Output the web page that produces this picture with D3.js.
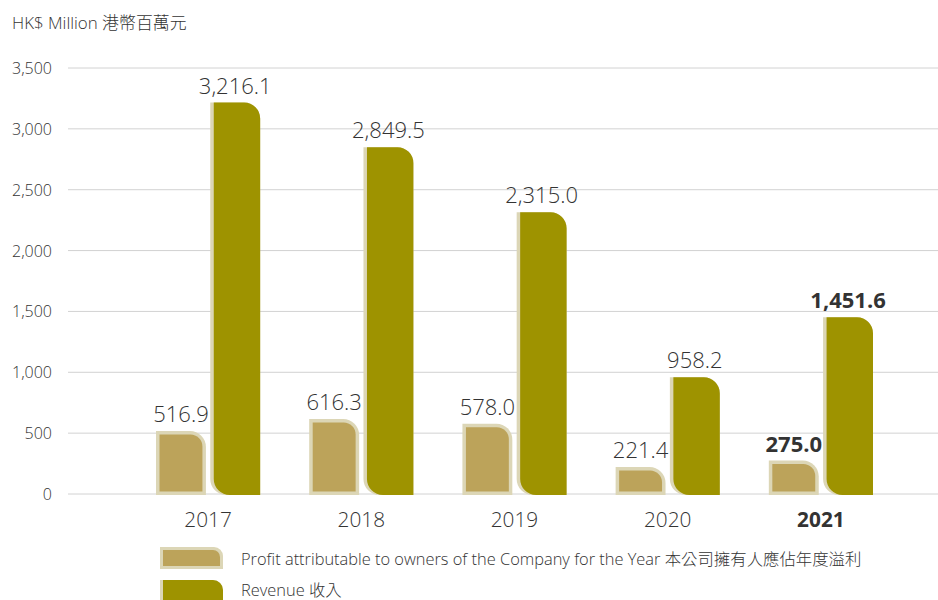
<!DOCTYPE html>
<html>
<head>
<meta charset="utf-8">
<script src="https://cdn.jsdelivr.net/npm/d3@7"></script>
<style>
  html, body { margin: 0; padding: 0; background: #fff; }
  svg { display: block; font-family: "Open Sans", "Noto Sans", "Noto Sans CJK TC", sans-serif; }
</style>
</head>
<body>
<svg id="chart" width="938" height="600"></svg>
<script>
// Figures in HK$ million
const years = ["2017", "2018", "2019", "2020", "2021"];
const profit = [516.9, 616.3, 578.0, 221.4, 275.0];
const revenue = [3216.1, 2849.5, 2315.0, 958.2, 1451.6];
const yTicks = [0, 500, 1000, 1500, 2000, 2500, 3000, 3500];
const highlightYear = "2021";
const legendLabels = [
  "Profit attributable to owners of the Company for the Year 本公司擁有人應佔年度溢利",
  "Revenue 收入"
];

const colProfit = "#bca35a";
const colRevenue = "#9e9300";
const colEdge = "#dcd6b6";
const textCol = "#333";
const lightW = 300;

const svg = d3.select("#chart");

const y = d3.scaleLinear().domain([0, 3500]).range([494, 68]);
const x = d3.scaleBand().domain(years).range([156, 873]).paddingInner(0.32).paddingOuter(0);
const sub = d3.scaleBand().domain(["p", "r"]).range([0, x.bandwidth()]).paddingInner(0.08);

// Title
svg.append("text").attr("x", 12).attr("y", 29)
  .attr("font-size", 16.9).attr("font-weight", lightW).attr("fill", textCol)
  .text("HK$ Million 港幣百萬元");

// Grid + tick labels
const grid = svg.append("g");
grid.selectAll("line").data(yTicks).join("line")
  .attr("x1", 68).attr("x2", 938)
  .attr("y1", d => y(d)).attr("y2", d => y(d))
  .attr("stroke", "#d2d2d2").attr("stroke-width", 1);
grid.selectAll("text").data(yTicks).join("text")
  .attr("x", 52).attr("y", d => y(d) + 6)
  .attr("text-anchor", "end").attr("font-size", 16).attr("font-weight", lightW).attr("fill", textCol)
  .text(d => d3.format(",")(d));

// Shape with rounded top-right corner and optional rounded bottom-left corner
function barPath(x0, y0, w, h, rTop, rBot) {
  const p = d3.path();
  rTop = Math.min(rTop, h, w);
  rBot = Math.min(rBot, h - rTop, w);
  p.moveTo(x0, y0);
  p.lineTo(x0 + w - rTop, y0);
  p.arcTo(x0 + w, y0, x0 + w, y0 + rTop, rTop);
  p.lineTo(x0 + w, y0 + h);
  p.lineTo(x0 + rBot, y0 + h);
  if (rBot > 0) p.arcTo(x0, y0 + h, x0, y0 + h - rBot, rBot);
  p.lineTo(x0, y0);
  p.closePath();
  return p.toString();
}

const base = y(0) + 1;
const groups = svg.append("g").selectAll("g").data(years).join("g")
  .attr("transform", d => `translate(${x(d)},0)`);

groups.each(function(d, i) {
  const g = d3.select(this);
  const w = sub.bandwidth();

  // Profit bar: pale frame with gold fill inset
  const top = y(profit[i]);
  const h = base - top;
  const px = sub("p");
  g.append("path").attr("d", barPath(px, top, w, h, 16, 0)).attr("fill", colEdge);
  g.append("path").attr("d", barPath(px + 3.5, top + 3.5, w - 7, h - 7, 12, 0)).attr("fill", colProfit);

  // Revenue bar: pale left edge showing behind the olive fill
  const rx = sub("r");
  const rtop = y(revenue[i]);
  const rh = base - rtop;
  g.append("path").attr("d", barPath(rx, rtop, w, rh, 16, 16)).attr("fill", colEdge);
  g.append("path").attr("d", barPath(rx + 3.5, rtop, w - 3.5, rh, 16, 16)).attr("fill", colRevenue);

  const bold = d === highlightYear;
  const wt = bold ? 700 : lightW;
  g.append("text").attr("x", px + w / 2).attr("y", top - 9)
    .attr("text-anchor", "middle").attr("font-size", 22)
    .attr("font-weight", wt).attr("fill", textCol)
    .text(d3.format(".1f")(profit[i]));
  g.append("text").attr("x", rx + w / 2).attr("y", rtop - 9)
    .attr("text-anchor", "middle").attr("font-size", 22)
    .attr("font-weight", wt).attr("fill", textCol)
    .text(d3.format(",.1f")(revenue[i]));
  g.append("text").attr("x", x.bandwidth() / 2).attr("y", 527)
    .attr("text-anchor", "middle").attr("font-size", 20.8)
    .attr("font-weight", wt).attr("fill", textCol)
    .text(d);
});

// Legend
const legend = svg.append("g");
const lp = legend.append("g");
lp.append("path").attr("d", barPath(160, 547, 63, 22, 9, 0)).attr("fill", colEdge);
lp.append("path").attr("d", barPath(163, 550, 57, 16, 7, 0)).attr("fill", colProfit);
lp.append("text").attr("x", 241).attr("y", 565).attr("font-size", 16.4).attr("font-weight", lightW)
  .attr("fill", textCol).text(legendLabels[0]);

const lr = legend.append("g");
lr.append("path").attr("d", barPath(160, 580, 63, 30, 10, 10)).attr("fill", colEdge);
lr.append("path").attr("d", barPath(163, 580, 60, 30, 10, 10)).attr("fill", colRevenue);
lr.append("text").attr("x", 241).attr("y", 596).attr("font-size", 16.4).attr("font-weight", lightW)
  .attr("fill", textCol).text(legendLabels[1]);
</script>
</body>
</html>
